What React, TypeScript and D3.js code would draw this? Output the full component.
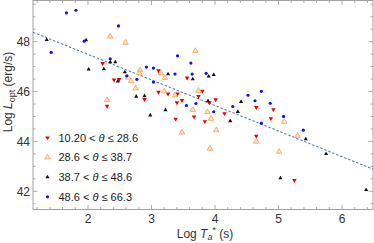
import React from "react";
import * as d3 from "d3";

// [Log Ta*, Log Lopt]
const theta1: [number, number][] = [
  [2.23, 47.13], [2.41, 46.47], [2.49, 46.49], [2.89, 45.69], [2.3, 45.42],
  [3.11, 46.84], [3.11, 45.98], [3.26, 45.91], [3.41, 45.91], [3.4, 45.56],
  [3.48, 45.65], [3.56, 46.55], [3.8, 46.02], [3.74, 45.81], [3.91, 45.56],
  [4.01, 45.68], [3.38, 44.9], [3.67, 44.99], [3.84, 44.8], [4.15, 45.12],
  [4.65, 45.37], [4.65, 44.21], [4.92, 45.28], [4.88, 44.92], [5.25, 42.44],
];
const theta2: [number, number][] = [
  [2.35, 48.21], [2.59, 47.96], [2.82, 46.86], [2.81, 46.74], [2.63, 46.56],
  [2.68, 46.42], [2.75, 46.13], [2.3, 45.66], [3.15, 46.73], [3.21, 46.55],
  [3.2, 46.01], [3.37, 45.85], [3.69, 47.63], [3.74, 46.03], [3.65, 45.26],
  [3.88, 45.18], [3.94, 44.91], [3.48, 44.36], [4.02, 44.45], [3.92, 43.71],
  [4.65, 43.99], [5.01, 43.59], [5.09, 44.79], [5.3, 44.23],
];
const theta3: [number, number][] = [
  [1.35, 48.07], [1.97, 48.06], [2.01, 46.89], [2.25, 46.9], [2.35, 47.18],
  [2.43, 47.18], [2.47, 46.41], [2.58, 46.78], [2.76, 45.8], [2.89, 45.82],
  [2.98, 45.05], [3.22, 45.26], [3.26, 46.7], [3.65, 46.5], [3.9, 46.61],
  [3.98, 46.67], [3.89, 45.62], [4.41, 45.59], [4.36, 45.19], [4.24, 44.82],
  [5.43, 44.09], [5.75, 43.5], [5.03, 42.53], [6.38, 42.06],
];
const theta4: [number, number][] = [
  [1.66, 49.15], [1.81, 49.26], [2.48, 48.63], [1.94, 48.02], [1.42, 47.57],
  [2.35, 47.31], [2.61, 46.63], [2.77, 46.49], [2.92, 46.98], [3.03, 46.94],
  [3.03, 46.38], [3.41, 47.43], [3.37, 46.7], [3.62, 47.14], [3.64, 46.7],
  [3.86, 46.73], [3.7, 45.52], [3.55, 45.44], [3.98, 45.19], [4.28, 45.4],
  [4.52, 45.85], [4.63, 45.63], [4.73, 46.01], [4.87, 45.53], [5.08, 45.0],
  [4.73, 44.73], [5.39, 44.45],
];

const legendLow = ["10.20", "28.6", "38.7", "48.6"];
const legendHigh = ["28.6", "38.7", "48.6", "66.3"];

const xTicks = [2, 3, 4, 5, 6];
const yTicks = [42, 44, 46, 48];

// fitted line Log Lopt = a + b Log Ta*
const fitIntercept = 49.54;
const fitSlope = -1.025;

const W = 374;
const H = 243;
const font = "'Liberation Sans', Arial, sans-serif";

export default function App() {
  const left = 33, right = 373, top = 0.5, bottom = 209.5;
  const x = d3.scaleLinear().domain([1.134, 6.488]).range([left, right]);
  const y = d3.scaleLinear().domain([41.27, 49.65]).range([bottom, top]);

  const xMinor = d3.range(1.2, 6.49, 0.2).filter((v) => Math.abs(v - Math.round(v)) > 0.01);
  const yMinor = d3.range(41.5, 49.6, 0.5).filter((v) => Math.abs(v / 2 - Math.round(v / 2)) > 0.01);

  const tri = d3.symbol().type(d3.symbolTriangle);
  const redPath = tri.size(9)() as string;
  const orangePath = tri.size(13)() as string;
  const blackPath = tri.size(7.5)() as string;

  const fitLine = d3
    .line<number>()
    .x((d) => x(d))
    .y((d) => y(fitIntercept + fitSlope * d));
  const xd = x.domain();

  const marker = (k: number, cx: number, cy: number, key: string) => {
    if (k === 0)
      return <path key={key} d={redPath} transform={`translate(${cx},${cy}) rotate(180)`} fill="#f00000" />;
    if (k === 1)
      return (
        <path key={key} d={orangePath} transform={`translate(${cx},${cy})`}
          fill="#fde2c4" stroke="#f7a04f" strokeWidth={0.8} />
      );
    if (k === 2)
      return <path key={key} d={blackPath} transform={`translate(${cx},${cy})`} fill="#111" />;
    return <circle key={key} cx={cx} cy={cy} r={1.6} fill="#1010f0" />;
  };

  const groups = [theta1, theta2, theta3, theta4];
  const tickColor = "#9a9a9a";

  return (
    <svg width={W} height={H} style={{ position: "absolute", left: 0, top: 0 }} fontFamily={font}>
      <rect x={0} y={0} width={W} height={H} fill="#fff" />

      {/* ticks */}
      <g stroke={tickColor} strokeWidth={0.8}>
        {xTicks.map((t) => (
          <g key={"xt" + t}>
            <line x1={x(t)} x2={x(t)} y1={bottom} y2={bottom - 4.5} />
            <line x1={x(t)} x2={x(t)} y1={top} y2={top + 4.5} />
          </g>
        ))}
        {xMinor.map((t, i) => (
          <g key={"xm" + i}>
            <line x1={x(t)} x2={x(t)} y1={bottom} y2={bottom - 2.5} />
            <line x1={x(t)} x2={x(t)} y1={top} y2={top + 2.5} />
          </g>
        ))}
        {yTicks.map((t) => (
          <g key={"yt" + t}>
            <line x1={left} x2={left + 4.5} y1={y(t)} y2={y(t)} />
            <line x1={right} x2={right - 4.5} y1={y(t)} y2={y(t)} />
          </g>
        ))}
        {yMinor.map((t, i) => (
          <g key={"ym" + i}>
            <line x1={left} x2={left + 2.5} y1={y(t)} y2={y(t)} />
            <line x1={right} x2={right - 2.5} y1={y(t)} y2={y(t)} />
          </g>
        ))}
      </g>
      <rect x={left} y={top} width={right - left} height={bottom - top} fill="none" stroke={tickColor} strokeWidth={0.9} />

      {/* tick labels */}
      <g fontSize={12} fill="#333">
        {xTicks.map((t) => (
          <text key={"xl" + t} x={x(t)} y={bottom + 13} textAnchor="middle">{t}</text>
        ))}
        {yTicks.map((t) => (
          <text key={"yl" + t} x={left - 3} y={y(t) + 4.3} textAnchor="end">{t}</text>
        ))}
      </g>

      {/* fit */}
      <path d={fitLine(xd) as string} fill="none" stroke="#5e81b5" strokeWidth={1.1} strokeDasharray="2.5,1.8" />

      {/* points */}
      {groups.map((g, k) => (
        <g key={"g" + k}>{g.map((d, i) => marker(k, x(d[0]), y(d[1]), `p${k}-${i}`))}</g>
      ))}

      {/* legend */}
      <g fontSize={11} fill="#222">
        {legendLow.map((lo, k) => {
          const cy = 137.7 + k * 19.7;
          return (
            <g key={"lg" + k}>
              {marker(k, 47.5, cy, "lm" + k)}
              <text x={58.5} y={cy + 4}>
                {lo} &lt; <tspan fontStyle="italic">θ</tspan> ≤ {legendHigh[k]}
              </text>
            </g>
          );
        })}
      </g>

      {/* axis labels */}
      <text x={205} y={237.5} textAnchor="middle" fontSize={12} fill="#333">
        Log <tspan fontStyle="italic">T</tspan>
        <tspan fontStyle="italic" fontSize={9} dy={2.5}>a</tspan>
        <tspan fontSize={9} dy={-7}>*</tspan>
        <tspan dy={4.5}> (s)</tspan>
      </text>
      <text transform="translate(12,92) rotate(-90)" textAnchor="middle" fontSize={12} fill="#333">
        Log <tspan fontStyle="italic">L</tspan>
        <tspan fontSize={9} dy={3}>opt</tspan>
        <tspan dy={-3}> (erg/s)</tspan>
      </text>
    </svg>
  );
}
